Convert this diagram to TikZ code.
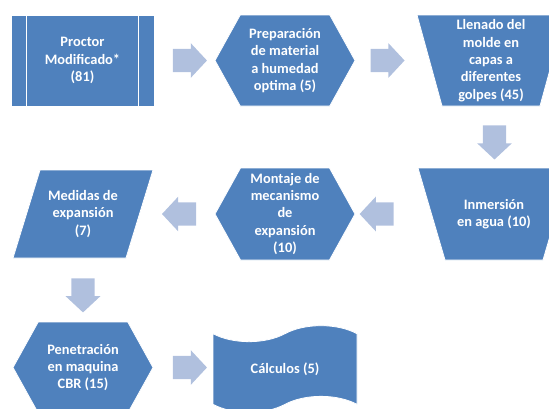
\documentclass[tikz,border=0pt]{standalone}
\usepackage{fontspec}
\setmainfont{Carlito}
\definecolor{shapeblue}{RGB}{79,129,189}
\definecolor{arrowblue}{RGB}{176,192,222}
\usetikzlibrary{positioning, calc, shapes.geometric, shapes.symbols, shapes.arrows}

\begin{document}
\begin{tikzpicture}[x=0.75pt, y=-0.75pt,
  box/.style={fill=shapeblue, draw=white, line width=0.6pt, text=white,
    font=\bfseries\fontsize{10.8}{13}\selectfont, align=center, inner sep=0pt},
  procbox/.style={box, rectangle, minimum width=107.25pt, minimum height=68.25pt},
  hexbox/.style={box, signal, signal to=west and east, signal pointer angle=122,
    minimum width=105pt, minimum height=68.25pt},
  % trapezoids and parallelogram: a plain frame with the shape filled inside
  slantbox/.style 2 args={text=white, font=\bfseries\fontsize{10.8}{13}\selectfont,
    align=center, inner sep=0pt, rectangle, minimum height=68.25pt,
    path picture={
      \filldraw[shapeblue, draw=white, line width=0.6pt]
        ($(path picture bounding box.north west)+(#1,0)$) --
        ($(path picture bounding box.north east)+(-#2,0)$) --
        ($(path picture bounding box.south east)+(-#1,0)$) --
        ($(path picture bounding box.south west)+(#2,0)$) -- cycle;}},
  trapbox/.style={slantbox={0}{0}, path picture={
      \filldraw[shapeblue, draw=white, line width=0.6pt]
        (path picture bounding box.north west) --
        (path picture bounding box.north east) --
        ($(path picture bounding box.south east)+(-#1,0)$) --
        ($(path picture bounding box.south west)+(#1,0)$) -- cycle;}},
  parabox/.style={slantbox={27}{0}},
  tapebox/.style={box, tape, tape bend top=in and out, tape bend bottom=in and out,
    tape bend height=12pt, minimum width=108pt, minimum height=65pt},
  blockarrow/.style={single arrow, fill=arrowblue, draw=none, inner xsep=0pt,
    inner ysep=8.6pt, minimum height=25.5pt, single arrow head extend=4.2pt,
    single arrow head indent=0pt, single arrow tip angle=94},
]
  \useasboundingbox (0,0) rectangle (549,408);
  \clip (0,0) rectangle (549,408);

  % first row
  \node[procbox] (proctor) at (82.5,60.5) {Proctor\\Modificado*\\(81)};
  \draw[white, line width=1.3pt] ($(proctor.north west)+(16,0)$) -- ($(proctor.south west)+(16,0)$);
  \draw[white, line width=1.3pt] ($(proctor.north east)+(-16,0)$) -- ($(proctor.south east)+(-16,0)$);
  \node[hexbox] (prep) at (285,60.5) {Preparación\\de material\\a humedad\\optima (5)};
  \node[trapbox=25, minimum width=111pt] (llenado) at (491,60.5) {Llenado del\\molde en\\capas a\\diferentes\\golpes (45)};

  % second row
  \node[trapbox=27, minimum width=114pt, minimum height=69pt] (inmersion) at (494,214) {Inmersión\\en agua (10)};
  \node[hexbox, minimum height=69pt] (montaje) at (285,214) {Montaje de\\mecanismo\\de\\expansión\\(10)};
  \node[parabox, minimum width=105pt, minimum height=66pt] (medidas) at (83,214) {Medidas de\\expansión\\(7)};

  % third row
  \node[hexbox] (penetracion) at (83,367.5) {Penetración\\en maquina\\CBR (15)};
  \node[tapebox] (calculos) at (285,369) {Cálculos (5)};

  % block arrows
  \node[blockarrow] (a1) at ($(proctor.east)!0.5!(prep.west)$) {};
  \node[blockarrow] (a2) at ($(prep.east)!0.5!(llenado.west)+(-4,0)$) {};
  \node[blockarrow, rotate=-90] (a3) at ($(llenado.south)!0.5!(inmersion.north)+(2,0)$) {};
  \node[blockarrow, rotate=180] (a4) at (a2 |- montaje) {};
  \node[blockarrow, rotate=180] (a5) at (a1 |- montaje) {};
  \node[blockarrow, rotate=-90] (a6) at ($(medidas.south)!0.5!(penetracion.north)$) {};
  \node[blockarrow] (a7) at (a1 |- penetracion) {};
\end{tikzpicture}
\end{document}
